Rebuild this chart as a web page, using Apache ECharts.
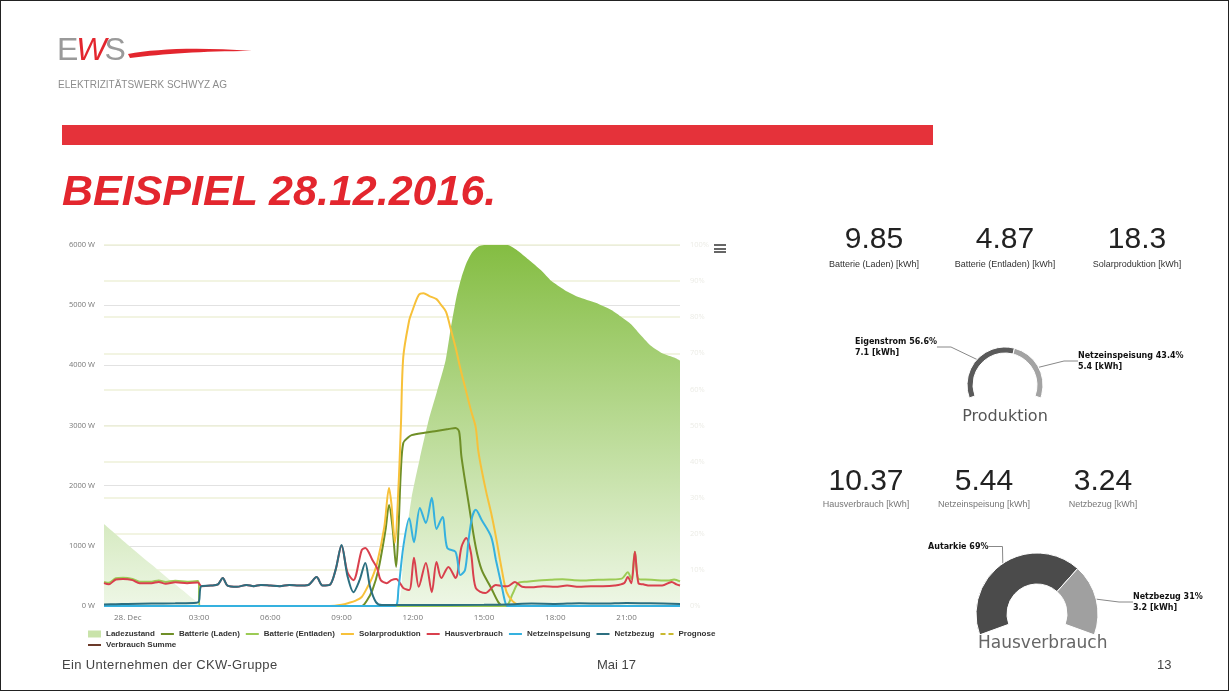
<!DOCTYPE html>
<html>
<head>
<meta charset="utf-8">
<script src="https://cdn.jsdelivr.net/npm/echarts@6/dist/echarts.min.js"></script>
<style>
  html, body { margin: 0; padding: 0; background: #fff; }
  #slide { position: relative; width: 1229px; height: 691px; overflow: hidden; font-family: 'Liberation Sans', Arial, sans-serif; }
  #chart { position: absolute; left: 0; top: 0; width: 1229px; height: 691px; }
  #frame { position: absolute; left: 0; top: 0; width: 1229px; height: 691px; box-sizing: border-box; border: 1px solid #222; pointer-events: none; }
  .abs { position: absolute; white-space: nowrap; }
  .kpi { position: absolute; width: 140px; margin-left: -70px; text-align: center; }
  .kpi .num { font-size: 30px; line-height: 30px; color: #222; }
  .kpi .lbl { font-size: 9px; line-height: 9px; color: #333; }
  .menu span { display: block; width: 12px; height: 2px; background: #666; margin-bottom: 1.5px; }
  .foot { font-size: 13px; line-height: 13px; color: #444; }
</style>
</head>
<body>
<div id="slide">
  <div id="chart"></div>

  <!-- logo -->
  <div class="abs" style="left:57px;top:33px;font-size:32px;line-height:32px;letter-spacing:-2px;color:#9a9a9a;">E<span style="color:#e3262e;font-style:italic;">W</span>S</div>
  <svg class="abs" style="left:126px;top:43px;" width="132" height="18">
    <path d="M2,11 C30,6 70,4 126,8 C75,8 38,11 4,15 Z" fill="#e3262e"/>
  </svg>
  <div class="abs" style="left:58px;top:80px;font-size:10px;line-height:10px;color:#8c8c8c;">ELEKTRIZITÄTSWERK SCHWYZ AG</div>

  <div class="abs" style="left:62px;top:125px;width:871px;height:20px;background:#e5323a;"></div>
  <div class="abs" style="left:62px;top:169px;font-size:43px;line-height:43px;font-weight:bold;font-style:italic;color:#e3262e;">BEISPIEL 28.12.2016.</div>

  <div class="abs menu" style="left:714px;top:244px;"><span></span><span></span><span></span></div>

  <div id="kpis"></div>

  <div class="abs" style="left:955px;top:406px;width:100px;text-align:center;font-family:'DejaVu Sans';font-size:16px;line-height:20px;color:#555;">Produktion</div>
  <div class="abs" style="left:978px;top:632px;width:120px;text-align:center;font-family:'DejaVu Sans';font-size:17px;line-height:20px;color:#666;">Hausverbrauch</div>

  <div class="abs foot" style="left:62px;top:658px;letter-spacing:0.35px;">Ein Unternehmen der CKW-Gruppe</div>
  <div class="abs foot" style="left:597px;top:658px;">Mai 17</div>
  <div class="abs foot" style="left:1157px;top:658px;">13</div>

  <div id="frame"></div>
</div>
<script>
// hours of 28 Dec (negative = evening of 27 Dec), values in W / %
const xTickHours = [0, 3, 6, 9, 12, 15, 18, 21];
const xTickLabels = ['28. Dec', '03:00', '06:00', '09:00', '12:00', '15:00', '18:00', '21:00'];

const ladezustand = [[-1,22.7],[0,17],[1,11.5],[2,6],[3,0.6],[3.1,0],[11.25,0],[11.6,14],[11.95,30],[12.3,41],[12.67,51.5],[13.0,59],[13.38,68],[13.6,77],[13.84,85.6],[14.05,91],[14.26,95],[14.5,98],[14.76,99.6],[15.0,100],[16.0,100],[16.4,98.5],[16.87,96],[17.4,93],[17.84,90],[18.4,87.5],[18.97,85.6],[19.7,84],[20.36,82],[20.8,80],[21.2,78],[21.6,75],[22.04,72],[22.5,70],[23.05,68.7],[23.25,68]];

const batterieLaden = [[-1,0],[9.85,0],[10.05,80],[10.3,265],[10.55,600],[10.85,1260],[11.0,1680],[11.15,1300],[11.3,650],[11.4,1300],[11.5,2260],[11.6,2710],[11.8,2800],[11.95,2840],[12.5,2880],[13.0,2910],[13.5,2940],[13.8,2960],[13.95,2900],[14.05,2480],[14.35,1710],[14.65,980],[14.9,600],[15.3,300],[15.6,65],[15.8,0],[23.25,0]];

const batterieEntladen = [[-1,400],[-0.8,385],[-0.5,460],[-0.2,470],[0.2,450],[0.5,405],[1.0,405],[1.3,425],[1.6,400],[2.0,420],[2.5,405],[2.95,415],[3.05,0],[15.9,0],[16.2,200],[16.45,385],[16.8,405],[17.3,425],[17.8,435],[18.3,445],[18.8,430],[19.3,425],[19.8,435],[20.3,440],[20.8,455],[21.05,560],[21.2,450],[21.35,900],[21.5,450],[21.8,440],[22.3,430],[22.8,425],[23.0,440],[23.25,410]];

const solarproduktion = [[-1,0],[8.5,0],[9.0,20],[9.3,50],[9.6,90],[9.85,150],[10.1,320],[10.3,480],[10.5,715],[10.8,1310],[11.0,1960],[11.1,1700],[11.25,1050],[11.4,2000],[11.5,3000],[11.6,4140],[11.85,4750],[11.95,4870],[12.25,5170],[12.45,5200],[12.7,5150],[13.0,5100],[13.2,5000],[13.4,4890],[13.6,4600],[13.8,4300],[14.0,3950],[14.2,3640],[14.45,3250],[14.65,2970],[14.75,2600],[14.9,2260],[15.1,1880],[15.3,1545],[15.5,1150],[15.75,600],[15.95,230],[16.2,80],[16.45,15],[16.6,0],[23.25,0]];

const hausverbrauch = [[-1,380],[-0.8,360],[-0.5,440],[-0.2,450],[0.2,430],[0.5,380],[1.0,380],[1.3,400],[1.6,370],[2.0,395],[2.5,380],[2.95,390],[3.1,330],[3.5,340],[3.8,360],[4.0,465],[4.2,340],[4.6,320],[5.0,350],[5.3,330],[5.6,350],[6.0,340],[6.4,330],[6.8,350],[7.2,340],[7.6,350],[7.95,480],[8.2,340],[8.5,350],[8.75,600],[9.0,1000],[9.25,560],[9.5,430],[9.85,930],[10.0,965],[10.3,765],[10.5,630],[10.65,430],[10.9,380],[11.1,430],[11.3,450],[11.6,300],[11.85,265],[12.05,800],[12.25,320],[12.55,715],[12.8,230],[13.0,730],[13.2,465],[13.5,650],[13.8,465],[14.05,980],[14.25,1130],[14.45,880],[14.65,300],[15.05,215],[15.5,350],[15.8,330],[16.0,330],[16.3,400],[16.6,320],[17.0,310],[17.5,330],[18.0,320],[18.5,340],[19.0,320],[19.5,330],[20.0,330],[20.5,340],[20.9,380],[21.05,480],[21.2,380],[21.35,900],[21.5,380],[21.7,360],[22.0,340],[22.5,340],[22.9,400],[23.1,360],[23.25,340]];

const netzeinspeisung = [[-1,0],[11.25,0],[11.4,300],[11.6,980],[11.85,1460],[12.05,1060],[12.3,1630],[12.55,1380],[12.8,1800],[13.0,1280],[13.25,1480],[13.45,965],[13.8,900],[14.0,515],[14.2,600],[14.35,1100],[14.5,1480],[14.65,1600],[14.9,1430],[15.3,1150],[15.5,765],[15.75,320],[15.9,50],[16.0,0],[23.25,0]];

const netzbezug = [[-1,25],[-0.5,30],[0,35],[1,40],[2,45],[2.9,55],[3.0,80],[3.1,330],[3.5,340],[3.8,360],[4.0,465],[4.2,340],[4.6,320],[5.0,350],[5.3,330],[5.6,350],[6.0,340],[6.4,330],[6.8,350],[7.2,340],[7.6,350],[7.95,480],[8.2,340],[8.5,350],[8.75,600],[9.0,1015],[9.25,500],[9.5,230],[9.75,420],[10.0,715],[10.2,320],[10.45,65],[10.7,15],[12,15],[15,20],[16,25],[17,40],[18,35],[19,45],[20,40],[21,50],[22,45],[23.25,35]];

const prognose = [];
const verbrauchSumme = [];

// KPI tiles
const kpiTopValues = ['9.85', '4.87', '18.3'];
const kpiTopLabels = ['Batterie (Laden) [kWh]', 'Batterie (Entladen) [kWh]', 'Solarproduktion [kWh]'];
const kpiBottomValues = ['10.37', '5.44', '3.24'];
const kpiBottomLabels = ['Hausverbrauch [kWh]', 'Netzeinspeisung [kWh]', 'Netzbezug [kWh]'];

// gauges
const produktionNames = ['Eigenstrom', 'Netzeinspeisung'];
const produktionPct = [56.6, 43.4];
const produktionKwh = [7.1, 5.4];
const hausNames = ['Autarkie', 'Netzbezug'];
const hausPct = [69, 31];
const hausKwh = [null, 3.2];

// KPI html
const kpiBox = document.getElementById('kpis');
function addKpis(values, labels, centers, numTop, lblTop, lblColor) {
  values.forEach((v, i) => {
    const d = document.createElement('div');
    d.className = 'kpi';
    d.style.left = centers[i] + 'px';
    d.style.top = numTop + 'px';
    d.innerHTML = '<div class="num">' + v + '</div>' +
      '<div class="lbl" style="margin-top:' + (lblTop - numTop - 30) + 'px;color:' + lblColor + '">' + labels[i] + '</div>';
    kpiBox.appendChild(d);
  });
}
addKpis(kpiTopValues, kpiTopLabels, [874, 1005, 1137], 223, 260, '#333');
addKpis(kpiBottomValues, kpiBottomLabels, [866, 984, 1103], 465, 500, '#777');

const chart = echarts.init(document.getElementById('chart'));

const lineIcon = 'path://M0,0 L13,0 L13,2 L0,2 Z';
const dashIcon = 'path://M0,0 L5,0 L5,2 L0,2 Z M8,0 L13,0 L13,2 L8,2 Z';

function lineSeries(name, data, color, extra) {
  return Object.assign({
    name: name,
    type: 'line',
    data: data,
    smooth: 0.3,
    symbol: 'none',
    lineStyle: { width: 2, color: color },
    itemStyle: { color: color },
    xAxisIndex: 0,
    yAxisIndex: 0
  }, extra || {});
}

function gaugeLabel(kwh) {
  return function (p) {
    const k = kwh[p.dataIndex];
    return p.name + ' ' + p.value + '%' + (k != null ? '\n' + k + ' [kWh]' : '');
  };
}

const legendBase = {
  left: 88, padding: 0,
  itemWidth: 13, itemHeight: 7, itemGap: 6,
  textStyle: { fontSize: 8, fontWeight: 'bold', color: '#333', fontFamily: 'Liberation Sans' }
};

const option = {
  animation: false,
  textStyle: { fontFamily: 'Open Sans' },
  grid: { left: 104, right: 549, top: 245, bottom: 85 },
  legend: [
    Object.assign({}, legendBase, {
      top: 630,
      data: [
        { name: 'Ladezustand', icon: 'rect', itemStyle: { color: '#c9e3aa' } },
        { name: 'Batterie (Laden)', icon: lineIcon },
        { name: 'Batterie (Entladen)', icon: lineIcon },
        { name: 'Solarproduktion', icon: lineIcon },
        { name: 'Hausverbrauch', icon: lineIcon },
        { name: 'Netzeinspeisung', icon: lineIcon },
        { name: 'Netzbezug', icon: lineIcon },
        { name: 'Prognose', icon: dashIcon }
      ]
    }),
    Object.assign({}, legendBase, {
      top: 641,
      data: [{ name: 'Verbrauch Summe', icon: lineIcon }]
    })
  ],
  xAxis: {
    type: 'value',
    min: -1,
    max: 23.25,
    axisLine: { show: false },
    axisTick: { show: false },
    splitLine: { show: false },
    axisLabel: {
      customValues: xTickHours,
      formatter: v => xTickLabels[xTickHours.indexOf(v)],
      color: '#777',
      fontSize: 8,
      margin: 8
    }
  },
  yAxis: [
    {
      type: 'value', min: 0, max: 6000, interval: 1000,
      axisLabel: { formatter: v => v + ' W', color: '#777', fontSize: 7.5, margin: 9 },
      splitLine: { lineStyle: { color: '#e2e2e2', width: 1 } },
      axisLine: { show: false }, axisTick: { show: false }
    },
    {
      type: 'value', min: 0, max: 100, interval: 10, position: 'right',
      axisLabel: { formatter: v => v + '%', color: '#ececE6', fontSize: 7.5, margin: 10 },
      splitLine: { lineStyle: { color: '#eef1d8', width: 1.5 } },
      axisLine: { show: false }, axisTick: { show: false }
    }
  ],
  series: [
    {
      name: 'Ladezustand',
      type: 'line',
      data: ladezustand,
      yAxisIndex: 1,
      smooth: 0.2,
      symbol: 'none',
      lineStyle: { width: 0 },
      itemStyle: { color: '#c9e3aa' },
      areaStyle: {
        opacity: 1,
        color: new echarts.graphic.LinearGradient(0, 0, 0, 1, [
          { offset: 0, color: '#84bd42' },
          { offset: 1, color: '#eef7e6' }
        ])
      }
    },
    lineSeries('Batterie (Laden)', batterieLaden, '#6f8f27'),
    lineSeries('Batterie (Entladen)', batterieEntladen, '#9ccb55'),
    lineSeries('Solarproduktion', solarproduktion, '#f7c13a'),
    lineSeries('Hausverbrauch', hausverbrauch, '#d9404d'),
    lineSeries('Netzeinspeisung', netzeinspeisung, '#35b1df'),
    lineSeries('Netzbezug', netzbezug, '#2c6f80'),
    lineSeries('Prognose', prognose, '#c9b930', { lineStyle: { width: 2, color: '#c9b930', type: 'dashed' } }),
    lineSeries('Verbrauch Summe', verbrauchSumme, '#6b3a2a'),
    {
      name: 'Produktion',
      type: 'pie',
      center: [1005, 385],
      radius: [32, 38],
      startAngle: 200,
      endAngle: -20,
      clockwise: true,
      silent: true,
      itemStyle: { borderColor: '#fff', borderWidth: 1 },
      data: produktionNames.map((n, i) => ({
        name: n, value: produktionPct[i],
        itemStyle: { color: ['#5a5a5a', '#a3a3a3'][i] }
      })),
      label: {
        formatter: gaugeLabel(produktionKwh),
        color: '#111', fontWeight: 'bold', fontSize: 8, lineHeight: 11,
        fontFamily: 'DejaVu Sans', align: 'left'
      },
      labelLine: { show: true, length: 12, length2: 14, lineStyle: { color: '#888', width: 1 } },
      labelLayout: p => p.dataIndex === 0
        ? { x: 855, y: 336, align: 'left', verticalAlign: 'top' }
        : { x: 1078, y: 350, align: 'left', verticalAlign: 'top' }
    },
    {
      name: 'Hausverbrauch',
      type: 'pie',
      center: [1037, 614],
      radius: [30, 61],
      startAngle: 200,
      endAngle: -20,
      clockwise: true,
      silent: true,
      itemStyle: { borderColor: '#fff', borderWidth: 1 },
      data: hausNames.map((n, i) => ({
        name: n, value: hausPct[i],
        itemStyle: { color: ['#4b4b4b', '#a0a0a0'][i] }
      })),
      label: {
        formatter: gaugeLabel(hausKwh),
        color: '#111', fontWeight: 'bold', fontSize: 8, lineHeight: 11,
        fontFamily: 'DejaVu Sans', align: 'left'
      },
      labelLine: { show: true, length: 12, length2: 14, lineStyle: { color: '#888', width: 1 } },
      labelLayout: p => p.dataIndex === 0
        ? { x: 928, y: 541, align: 'left', verticalAlign: 'top' }
        : { x: 1133, y: 591, align: 'left', verticalAlign: 'top' }
    }
  ]
};

chart.setOption(option);
</script>
</body>
</html>
